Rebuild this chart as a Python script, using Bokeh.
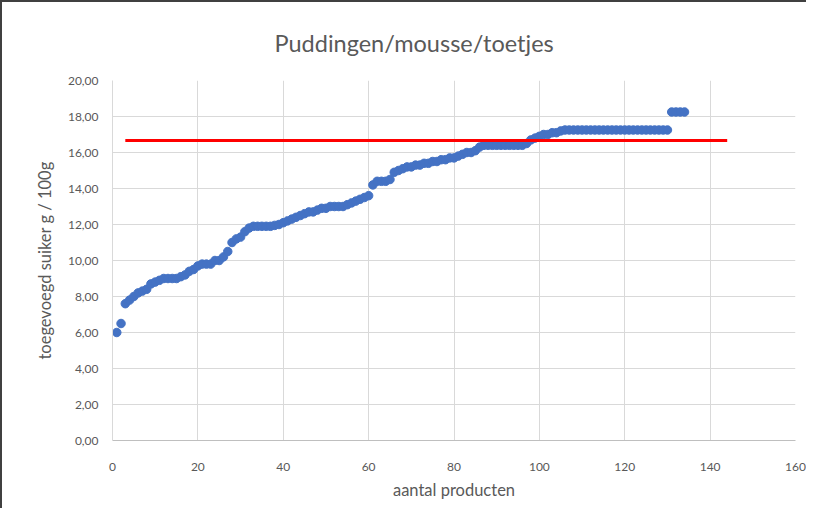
from bokeh.plotting import figure
from bokeh.models import Range1d, FixedTicker, CustomJSTickFormatter
from bokeh.embed import file_html
from bokeh.resources import INLINE

# ---- data ----
sugar = [6.0, 6.5, 7.6, 7.8, 8.0, 8.2, 8.3, 8.4, 8.7, 8.8,
         8.9, 9.0, 9.0, 9.0, 9.0, 9.1, 9.2, 9.4, 9.5, 9.7,
         9.8, 9.8, 9.8, 10.0, 10.0, 10.2, 10.5, 11.0, 11.2, 11.3,
         11.6, 11.8, 11.9, 11.9, 11.9, 11.9, 11.9, 11.95, 12.0, 12.1,
         12.2, 12.3, 12.4, 12.5, 12.6, 12.7, 12.7, 12.8, 12.9, 12.9,
         13.0, 13.0, 13.0, 13.0, 13.1, 13.2, 13.3, 13.4, 13.5, 13.6,
         14.2, 14.4, 14.4, 14.4, 14.5, 14.9, 15.0, 15.1, 15.2, 15.2,
         15.3, 15.3, 15.4, 15.4, 15.5, 15.5, 15.6, 15.6, 15.7, 15.7,
         15.8, 15.9, 16.0, 16.0, 16.1, 16.3, 16.4, 16.4, 16.4, 16.4,
         16.4, 16.4, 16.4, 16.4, 16.4, 16.4, 16.5, 16.7, 16.8, 16.9,
         17.0, 17.0, 17.1, 17.1, 17.2, 17.25, 17.25, 17.25, 17.25, 17.25,
         17.25, 17.25, 17.25, 17.25, 17.25, 17.25, 17.25, 17.25, 17.25, 17.25,
         17.25, 17.25, 17.25, 17.25, 17.25, 17.25, 17.25, 17.25, 17.25, 17.25,
         18.25, 18.25, 18.25, 18.25]
products = list(range(1, len(sugar) + 1))

norm_x = [3, 144]
norm_y = [16.67, 16.67]

x_ticks = [0, 20, 40, 60, 80, 100, 120, 140, 160]
y_ticks = [0, 2, 4, 6, 8, 10, 12, 14, 16, 18, 20]

FONT = "Lato"
GREY = "#595959"

p = figure(width=806, height=508, output_backend="svg", toolbar_location=None,
           x_range=Range1d(0, 160), y_range=Range1d(0, 20),
           title="Puddingen/mousse/toetjes",
           min_border_left=110, min_border_right=13, min_border_top=78, min_border_bottom=70)
p.styles = {"border-top": "2px solid #404040", "border-left": "2px solid #404040"}

p.title.text_font = FONT
p.title.text_font_size = "23.5px"
p.title.text_color = GREY
p.title.text_font_style = "normal"
p.title.align = "left"
p.title.offset = 162
p.title.standoff = 47

p.outline_line_color = None
p.xgrid.grid_line_color = "#D9D9D9"
p.ygrid.grid_line_color = "#D9D9D9"

p.xaxis.ticker = FixedTicker(ticks=x_ticks)
p.yaxis.ticker = FixedTicker(ticks=y_ticks)
p.yaxis.formatter = CustomJSTickFormatter(code="return tick.toFixed(2).replace('.', ',');")

for ax in (p.xaxis[0], p.yaxis[0]):
    ax.major_tick_line_color = None
    ax.minor_tick_line_color = None
    ax.major_label_text_font = FONT
    ax.major_label_text_font_size = "12px"
    ax.major_label_text_color = GREY
    ax.axis_label_text_font = FONT
    ax.axis_label_text_font_size = "16.5px"
    ax.axis_label_text_color = GREY
    ax.axis_label_text_font_style = "normal"

p.xaxis.axis_line_color = "#BFBFBF"
p.yaxis.axis_line_color = "#D9D9D9"
p.xaxis.major_label_standoff = 16
p.yaxis.major_label_standoff = 8
p.xaxis.axis_label = "aantal producten"
p.yaxis.axis_label = "toegevoegd suiker g / 100g"
p.xaxis.axis_label_standoff = 6
p.yaxis.axis_label_standoff = 10

p.scatter(products, sugar, size=8.5, fill_color="#4472C4", line_color="#4472C4")
p.line(norm_x, norm_y, line_color="#FF0000", line_width=3)

open("out.html", "w").write(file_html(p, INLINE))
